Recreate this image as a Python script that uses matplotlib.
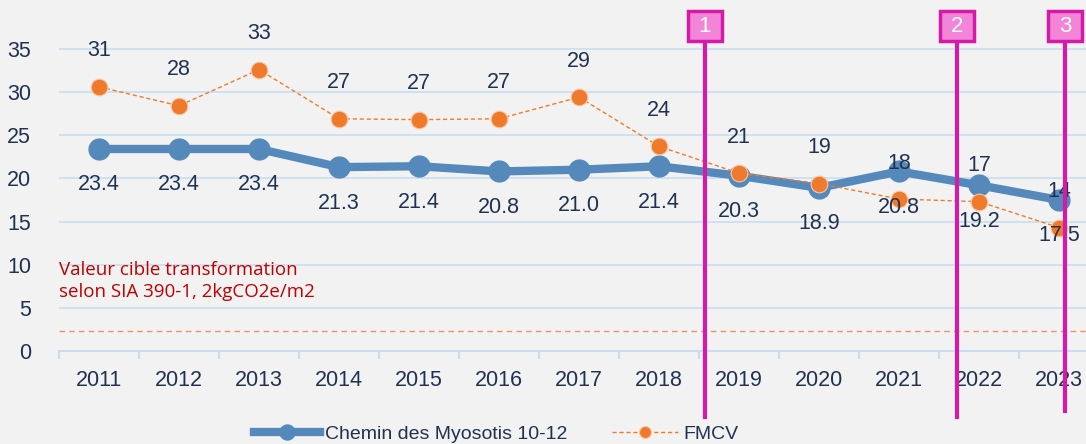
import numpy as np
import matplotlib.pyplot as plt
from matplotlib.lines import Line2D
from matplotlib.patches import Rectangle

# data
years = ['2011', '2012', '2013', '2014', '2015', '2016', '2017',
         '2018', '2019', '2020', '2021', '2022', '2023']
myosotis = [23.4, 23.4, 23.4, 21.3, 21.4, 20.8, 21.0, 21.4, 20.3, 18.9, 20.8, 19.2, 17.5]
fmcv = [30.6, 28.4, 32.6, 26.9, 26.8, 26.9, 29.4, 23.7, 20.6, 19.4, 17.6, 17.3, 14.3]
cible = 2.3
yticks = [0, 5, 10, 15, 20, 25, 30, 35]

bg = '#f2f2f2'
blue = '#5589bb'
orange = '#f07a2b'
navy = '#1f3250'
grid = '#c9ddf1'
pink = '#d61aa8'

W, H = 1086, 444
fig = plt.figure(figsize=(W / 100, H / 100), dpi=100, facecolor=bg)
ax = fig.add_axes([59 / W, (H - 351) / H, 1040 / W, 341 / H])
ax.set_facecolor(bg)

x = np.arange(len(years))
ax.plot(x, myosotis, color=blue, lw=6, marker='o', ms=15, zorder=3,
        label='Chemin des Myosotis 10-12')
ax.plot(x, fmcv, color=orange, lw=1, ls='--', dashes=(3, 2), marker='o', ms=12,
        mec='#f6c9a8', mew=0.8, zorder=4, label='FMCV')
ax.axhline(cible, color='#e8956a', lw=1, ls='--', dashes=(4, 3), zorder=2)

for i in x:
    ax.annotate(f'{myosotis[i]:.1f}', (i, myosotis[i]), xytext=(0, -36),
                textcoords='offset pixels', ha='center', va='center',
                fontsize=15.5, color=navy, family='Liberation Sans', zorder=5)
    ax.annotate(f'{fmcv[i]:.0f}', (i, fmcv[i]), xytext=(0, 36),
                textcoords='offset pixels', ha='center', va='center',
                fontsize=15.5, color=navy, family='Liberation Sans', zorder=5)

ax.text(-0.5, 10.4, 'Valeur cible transformation\nselon SIA 390-1, 2kgCO2e/m2',
        color='#c00000', fontsize=13.5, family='Open Sans', va='top',
        linespacing=1.25)

ax.set_xlim(-0.5, len(years) - 0.5)
ax.set_ylim(0, 39.5)
ax.set_yticks(yticks)
ax.set_xticks(x)
ax.set_xticklabels(years)
ax.set_xticks(np.arange(len(years) + 1) - 0.5, minor=True)
ax.grid(axis='y', color=grid, lw=1.2)
ax.set_axisbelow(True)
for s in ['top', 'right', 'left']:
    ax.spines[s].set_visible(False)
ax.spines['bottom'].set_color(grid)
ax.spines['bottom'].set_linewidth(1.5)
ax.tick_params(axis='x', which='major', length=0, pad=14, labelsize=15.5, labelcolor=navy)
ax.tick_params(axis='x', which='minor', length=6, width=1.5, color=grid)
ax.tick_params(axis='y', length=0, pad=20, labelsize=15.5, labelcolor=navy)
for lab in ax.get_xticklabels() + ax.get_yticklabels():
    lab.set_family('Liberation Sans')

# numbered vertical markers
for num, px, bot in [('1', 705, 417), ('2', 957, 417), ('3', 1065, 411)]:
    fig.add_artist(Line2D([px / W, px / W], [(H - 41) / H, (H - bot) / H],
                          color=pink, lw=3, zorder=6))
    fig.add_artist(Rectangle(((px - 17) / W, (H - 41) / H), 34 / W, 30 / H,
                             fc='#f385d9', ec=pink, lw=2.5, zorder=7))
    fig.text(px / W, (H - 26) / H, num, ha='center', va='center', color='white',
             fontsize=16, family='Liberation Sans', zorder=8)

leg = fig.legend(loc='center', bbox_to_anchor=(0.457, 0.022), ncol=2, frameon=False,
                 handlelength=3.4, columnspacing=2.3, handletextpad=0.25, markerscale=0.72,
                 prop={'family': 'Liberation Sans', 'size': 14})
for t in leg.get_texts():
    t.set_color(navy)

fig.savefig('out.png', dpi=100, facecolor=bg)
